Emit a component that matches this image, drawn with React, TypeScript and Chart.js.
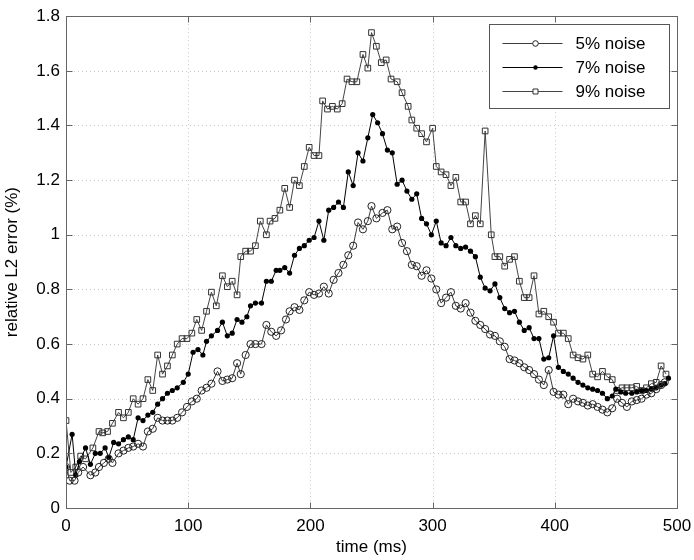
import React, { useEffect, useRef } from 'react';
import { Chart, registerables } from 'chart.js';

Chart.register(...registerables);

// ---- data (time in ms, relative L2 error in %) ----
const seriesLabels = ['5% noise', '7% noise', '9% noise'];

const time5 = [0, 3, 7, 10, 14, 20, 24, 27, 31, 35, 38, 43, 47, 51, 55, 59, 63, 67, 71, 75, 79, 83, 87, 91, 95, 99, 103, 107, 111, 115, 119, 124, 128, 132, 136, 140, 143, 147, 151, 155, 160, 164, 168, 172, 176, 180, 183, 187, 191, 195, 199, 203, 207, 211, 215, 219, 223, 227, 231, 235, 239, 243, 247, 250, 254, 259, 263, 267, 271, 275, 279, 283, 287, 291, 295, 299, 303, 307, 311, 315, 319, 323, 327, 331, 335, 339, 343, 347, 351, 355, 359, 363, 367, 371, 375, 379, 383, 387, 391, 395, 399, 403, 407, 411, 415, 419, 423, 427, 431, 435, 439, 443, 447, 451, 455, 459, 463, 467, 471, 475, 479, 483, 487, 490];
const noise5 = [0.15, 0.10, 0.10, 0.13, 0.15, 0.12, 0.13, 0.15, 0.165, 0.18, 0.165, 0.20, 0.21, 0.22, 0.225, 0.235, 0.225, 0.28, 0.29, 0.33, 0.32, 0.32, 0.32, 0.33, 0.35, 0.37, 0.39, 0.40, 0.43, 0.44, 0.455, 0.50, 0.465, 0.47, 0.475, 0.53, 0.49, 0.56, 0.60, 0.60, 0.60, 0.67, 0.645, 0.63, 0.65, 0.69, 0.72, 0.735, 0.725, 0.76, 0.79, 0.78, 0.785, 0.81, 0.785, 0.835, 0.86, 0.89, 0.925, 0.96, 1.045, 1.02, 1.05, 1.105, 1.06, 1.08, 1.09, 1.02, 1.03, 0.97, 0.94, 0.89, 0.885, 0.85, 0.87, 0.84, 0.80, 0.75, 0.77, 0.79, 0.74, 0.73, 0.75, 0.715, 0.685, 0.67, 0.655, 0.635, 0.63, 0.61, 0.59, 0.545, 0.54, 0.53, 0.515, 0.505, 0.49, 0.47, 0.45, 0.505, 0.425, 0.415, 0.415, 0.38, 0.40, 0.39, 0.385, 0.375, 0.38, 0.37, 0.36, 0.35, 0.365, 0.40, 0.385, 0.37, 0.39, 0.395, 0.40, 0.415, 0.42, 0.435, 0.45, 0.46];

const time7 = [0, 5, 8, 11, 16, 20, 24, 28, 32, 35, 39, 43, 47, 51, 55, 59, 63, 67, 71, 75, 79, 83, 87, 91, 96, 100, 104, 108, 112, 115, 119, 124, 128, 132, 136, 140, 144, 148, 151, 155, 160, 164, 168, 172, 175, 179, 183, 187, 191, 195, 199, 203, 207, 211, 215, 219, 223, 227, 231, 235, 239, 243, 247, 251, 255, 259, 263, 267, 271, 275, 279, 283, 287, 291, 295, 299, 303, 307, 311, 315, 319, 323, 327, 331, 335, 339, 343, 347, 351, 355, 359, 363, 367, 371, 375, 379, 383, 387, 391, 395, 399, 403, 407, 411, 415, 419, 423, 427, 431, 435, 439, 443, 447, 450, 454, 458, 463, 467, 471, 475, 479, 483, 487, 490, 493];
const noise7 = [0.15, 0.27, 0.12, 0.17, 0.22, 0.16, 0.20, 0.20, 0.22, 0.185, 0.24, 0.235, 0.25, 0.26, 0.25, 0.33, 0.32, 0.34, 0.35, 0.38, 0.40, 0.42, 0.43, 0.44, 0.46, 0.49, 0.57, 0.58, 0.56, 0.61, 0.63, 0.65, 0.68, 0.63, 0.64, 0.69, 0.68, 0.70, 0.74, 0.75, 0.75, 0.83, 0.83, 0.87, 0.87, 0.88, 0.86, 0.925, 0.95, 0.96, 0.98, 0.99, 1.05, 0.98, 1.09, 1.10, 1.12, 1.10, 1.23, 1.18, 1.30, 1.27, 1.355, 1.44, 1.41, 1.37, 1.31, 1.30, 1.185, 1.20, 1.16, 1.13, 1.15, 1.06, 1.04, 1.00, 1.05, 0.97, 0.96, 0.99, 0.96, 0.95, 0.955, 0.94, 0.92, 0.845, 0.805, 0.795, 0.82, 0.77, 0.73, 0.715, 0.72, 0.68, 0.65, 0.66, 0.62, 0.62, 0.545, 0.55, 0.63, 0.515, 0.50, 0.49, 0.475, 0.46, 0.45, 0.44, 0.435, 0.43, 0.42, 0.40, 0.41, 0.435, 0.425, 0.42, 0.42, 0.425, 0.43, 0.43, 0.435, 0.44, 0.45, 0.455, 0.475];

const time9 = [0, 4, 8, 12, 16, 22, 27, 30, 34, 38, 43, 47, 51, 55, 59, 63, 67, 71, 75, 79, 83, 87, 91, 95, 99, 103, 107, 111, 115, 119, 123, 128, 132, 136, 140, 143, 147, 151, 155, 159, 164, 167, 171, 175, 179, 183, 187, 191, 195, 199, 203, 207, 210, 214, 218, 222, 226, 230, 234, 238, 243, 247, 250, 254, 258, 262, 266, 271, 275, 280, 283, 287, 291, 295, 300, 303, 307, 311, 315, 319, 323, 327, 331, 335, 339, 343, 348, 351, 355, 359, 363, 367, 371, 375, 379, 383, 387, 391, 395, 399, 403, 407, 411, 415, 419, 423, 427, 431, 435, 439, 443, 447, 451, 455, 459, 463, 467, 471, 475, 479, 483, 487, 491];
const noise9 = [0.32, 0.13, 0.15, 0.19, 0.18, 0.22, 0.28, 0.275, 0.28, 0.31, 0.35, 0.33, 0.35, 0.40, 0.38, 0.40, 0.47, 0.43, 0.56, 0.49, 0.52, 0.56, 0.60, 0.62, 0.62, 0.64, 0.69, 0.65, 0.72, 0.79, 0.74, 0.85, 0.81, 0.83, 0.78, 0.92, 0.94, 0.94, 0.96, 1.05, 1.00, 1.05, 1.06, 1.09, 1.17, 1.10, 1.20, 1.18, 1.25, 1.32, 1.29, 1.29, 1.49, 1.46, 1.47, 1.46, 1.48, 1.57, 1.56, 1.56, 1.66, 1.61, 1.74, 1.69, 1.63, 1.64, 1.57, 1.56, 1.52, 1.47, 1.42, 1.39, 1.37, 1.34, 1.39, 1.25, 1.23, 1.22, 1.18, 1.21, 1.12, 1.12, 1.04, 1.07, 1.04, 1.38, 1.00, 0.92, 0.92, 0.885, 0.91, 0.92, 0.83, 0.77, 0.77, 0.85, 0.71, 0.72, 0.70, 0.68, 0.64, 0.64, 0.62, 0.56, 0.55, 0.545, 0.56, 0.49, 0.48, 0.50, 0.48, 0.47, 0.43, 0.44, 0.44, 0.44, 0.445, 0.43, 0.44, 0.455, 0.46, 0.52, 0.49];

const xTickValues = [0, 100, 200, 300, 400, 500];
const yTickValues = [0, 0.2, 0.4, 0.6, 0.8, 1, 1.2, 1.4, 1.6, 1.8];

const FONT = '"Liberation Sans", Arial, Helvetica, sans-serif';

function toPoints(t: number[], v: number[]) {
  return t.map((x, i) => ({ x, y: v[i] }));
}

const decorPlugin = {
  id: 'matlabDecor',
  beforeDatasetsDraw(chart: any) {
    const { ctx, chartArea: a, scales } = chart;
    ctx.save();
    ctx.strokeStyle = '#c8c8c8';
    ctx.lineWidth = 1;
    ctx.setLineDash([1, 3]);
    for (const v of xTickValues) {
      const px = Math.round(scales.x.getPixelForValue(v)) + 0.5;
      ctx.beginPath();
      ctx.moveTo(px, a.top);
      ctx.lineTo(px, a.bottom);
      ctx.stroke();
    }
    for (const v of yTickValues) {
      const py = Math.round(scales.y.getPixelForValue(v)) + 0.5;
      ctx.beginPath();
      ctx.moveTo(a.left, py);
      ctx.lineTo(a.right, py);
      ctx.stroke();
    }
    ctx.restore();
  },
  afterDatasetsDraw(chart: any) {
    const { ctx, chartArea: a, scales } = chart;
    ctx.save();
    ctx.setLineDash([]);
    ctx.strokeStyle = '#666';
    ctx.lineWidth = 1;
    const L = Math.round(a.left) + 0.5;
    const R = Math.round(a.right) + 0.5;
    const T = Math.round(a.top) + 0.5;
    const B = Math.round(a.bottom) + 0.5;
    ctx.strokeRect(L, T, R - L, B - T);
    const tl = 6;
    ctx.beginPath();
    for (const v of xTickValues) {
      const px = Math.round(scales.x.getPixelForValue(v)) + 0.5;
      ctx.moveTo(px, B);
      ctx.lineTo(px, B - tl);
      ctx.moveTo(px, T);
      ctx.lineTo(px, T + tl);
    }
    for (const v of yTickValues) {
      const py = Math.round(scales.y.getPixelForValue(v)) + 0.5;
      ctx.moveTo(L, py);
      ctx.lineTo(L + tl, py);
      ctx.moveTo(R, py);
      ctx.lineTo(R - tl, py);
    }
    ctx.stroke();

    // legend box
    const w = 180;
    const h = 84;
    const lx = Math.round(a.right) - 8 - w + 0.5;
    const ly = Math.round(a.top) + 8 + 0.5;
    ctx.fillStyle = '#fff';
    ctx.fillRect(lx, ly, w, h);
    ctx.strokeStyle = '#555';
    ctx.strokeRect(lx, ly, w, h);
    const rows = [19, 43, 67];
    chart.data.datasets.forEach((ds: any, i: number) => {
      const y = ly + rows[i];
      ctx.strokeStyle = ds.borderColor;
      ctx.lineWidth = 1;
      ctx.beginPath();
      ctx.moveTo(lx + 13, y);
      ctx.lineTo(lx + 73, y);
      ctx.stroke();
      const mx = lx + 46;
      ctx.beginPath();
      if (ds.pointStyle === 'rect') {
        ctx.fillStyle = '#fff';
        ctx.rect(mx - 2.5, y - 2.5, 5, 5);
        ctx.fill();
        ctx.strokeStyle = ds.pointBorderColor;
        ctx.stroke();
      } else if (ds.pointBackgroundColor === '#000') {
        ctx.fillStyle = '#000';
        ctx.arc(mx, y, 2.2, 0, Math.PI * 2);
        ctx.fill();
      } else {
        ctx.fillStyle = '#fff';
        ctx.arc(mx, y, 2.8, 0, Math.PI * 2);
        ctx.fill();
        ctx.strokeStyle = ds.pointBorderColor;
        ctx.stroke();
      }
      ctx.fillStyle = '#000';
      ctx.font = `17px ${FONT}`;
      ctx.textAlign = 'left';
      ctx.textBaseline = 'middle';
      ctx.fillText(ds.label, lx + 86, y + 1);
    });
    ctx.restore();
  },
};

export default function App() {
  const canvasRef = useRef<HTMLCanvasElement | null>(null);

  useEffect(() => {
    if (!canvasRef.current) return;
    const chart = new Chart(canvasRef.current, {
      type: 'line',
      data: {
        datasets: [
          {
            label: seriesLabels[0],
            data: toPoints(time5, noise5),
            borderColor: '#3c3c3c',
            borderWidth: 1,
            pointStyle: 'circle',
            pointRadius: 3.6,
            pointBackgroundColor: 'rgba(255,255,255,0)',
            pointBorderColor: '#222',
            pointBorderWidth: 1,
            tension: 0,
          },
          {
            label: seriesLabels[1],
            data: toPoints(time7, noise7),
            borderColor: '#000',
            borderWidth: 1,
            pointStyle: 'circle',
            pointRadius: 2.6,
            pointBackgroundColor: '#000',
            pointBorderColor: '#000',
            pointBorderWidth: 0,
            tension: 0,
          },
          {
            label: seriesLabels[2],
            data: toPoints(time9, noise9),
            borderColor: '#444',
            borderWidth: 1,
            pointStyle: 'rect',
            pointRadius: 4,
            pointBackgroundColor: 'rgba(255,255,255,0)',
            pointBorderColor: '#333',
            pointBorderWidth: 1,
            tension: 0,
          },
        ],
      },
      options: {
        animation: false,
        responsive: true,
        maintainAspectRatio: false,
        layout: { padding: { left: 0, right: 43, top: 10, bottom: 0 } },
        plugins: { legend: { display: false }, tooltip: { enabled: false } },
        scales: {
          x: {
            type: 'linear',
            min: 0,
            max: 500,
            afterFit: (s: any) => { s.height = 52; },
            afterBuildTicks: (s: any) => { s.ticks = xTickValues.map((v) => ({ value: v })); },
            grid: { display: false, drawTicks: false },
            border: { display: false },
            ticks: {
              padding: 8,
              color: '#000',
              font: { family: FONT, size: 17 },
              maxRotation: 0,
              callback: (v: any) => String(v),
            },
            title: {
              display: true,
              text: 'time (ms)',
              color: '#000',
              font: { family: FONT, size: 17 },
              padding: { top: 0, bottom: 2 },
            },
          },
          y: {
            type: 'linear',
            min: 0,
            max: 1.8,
            afterFit: (s: any) => { s.width = 66; },
            afterBuildTicks: (s: any) => { s.ticks = yTickValues.map((v) => ({ value: v })); },
            grid: { display: false, drawTicks: false },
            border: { display: false },
            ticks: {
              padding: 6,
              color: '#000',
              font: { family: FONT, size: 17 },
              callback: (v: any) => {
                const n = Number(v);
                if (Math.abs(n - Math.round(n)) < 1e-9) return String(Math.round(n));
                return n.toFixed(1);
              },
            },
            title: {
              display: true,
              text: 'relative L2 error (%)',
              color: '#000',
              font: { family: FONT, size: 17 },
              padding: { top: 2, bottom: 0 },
            },
          },
        },
      },
      plugins: [decorPlugin],
    });
    return () => chart.destroy();
  }, []);

  return (
    <div style={{ position: 'fixed', left: 0, top: 0, width: 694, height: 560, overflow: 'hidden', background: '#fff' }}>
      <div style={{ position: 'relative', width: 720, height: 560 }}>
        <canvas ref={canvasRef} />
      </div>
    </div>
  );
}
